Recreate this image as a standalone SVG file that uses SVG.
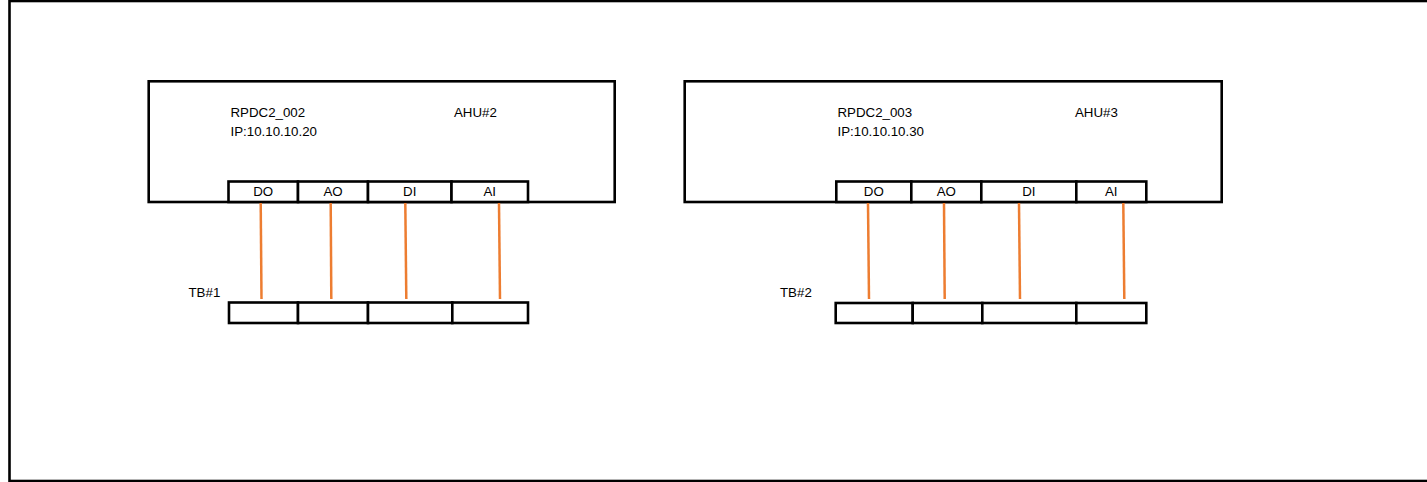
<svg xmlns="http://www.w3.org/2000/svg" width="1427" height="482" viewBox="0 0 1427 482">
<style>
.box{fill:#fff;stroke:#000;stroke-width:2.6}
.cell{fill:#fff;stroke:#000;stroke-width:2.6}
.t{font-family:"Liberation Sans",Arial,sans-serif;font-size:13.3px;fill:#000}
.c{text-anchor:middle}
.wire{stroke:#ED7D31;stroke-width:2.5;fill:none}
</style>
<rect x="9.5" y="1" width="1430" height="480" fill="#fff" stroke="#000" stroke-width="2.6"/>
<g id="rpdc2_002">
<rect class="box" x="148.7" y="81.3" width="466" height="120.7"/>
<rect class="cell" x="228.5" y="181.5" width="69.5" height="20.5"/>
<rect class="cell" x="298" y="181.5" width="70" height="20.5"/>
<rect class="cell" x="368" y="181.5" width="83.5" height="20.5"/>
<rect class="cell" x="451.5" y="181.5" width="76.5" height="20.5"/>
<text class="t" x="230.5" y="116.5">RPDC2_002</text>
<text class="t" x="230.5" y="136">IP:10.10.10.20</text>
<text class="t" x="454" y="116.5">AHU#2</text>
<text class="t c" x="263.2" y="196">DO</text>
<text class="t c" x="333" y="196">AO</text>
<text class="t c" x="409.7" y="196">DI</text>
<text class="t c" x="489.7" y="196">AI</text>
</g>
<g id="rpdc2_003">
<rect class="box" x="684.7" y="81.3" width="537" height="120.7"/>
<rect class="cell" x="836.3" y="181.5" width="75" height="20.5"/>
<rect class="cell" x="911.3" y="181.5" width="70" height="20.5"/>
<rect class="cell" x="981.3" y="181.5" width="95" height="20.5"/>
<rect class="cell" x="1076.3" y="181.5" width="70" height="20.5"/>
<text class="t" x="837.5" y="116.5">RPDC2_003</text>
<text class="t" x="837.5" y="136">IP:10.10.10.30</text>
<text class="t" x="1075" y="116.5">AHU#3</text>
<text class="t c" x="873.8" y="196">DO</text>
<text class="t c" x="946.3" y="196">AO</text>
<text class="t c" x="1028.8" y="196">DI</text>
<text class="t c" x="1111.3" y="196">AI</text>
</g>
<g id="tb1">
<rect class="cell" x="229" y="302.5" width="69" height="20.5"/>
<rect class="cell" x="298" y="302.5" width="70" height="20.5"/>
<rect class="cell" x="368" y="302.5" width="84.3" height="20.5"/>
<rect class="cell" x="452.3" y="302.5" width="75.7" height="20.5"/>
<text class="t" x="188.5" y="296.5">TB#1</text>
</g>
<g id="tb2">
<rect class="cell" x="835.7" y="303" width="77" height="20"/>
<rect class="cell" x="912.7" y="303" width="69.6" height="20"/>
<rect class="cell" x="982.3" y="303" width="94" height="20"/>
<rect class="cell" x="1076.3" y="303" width="70" height="20"/>
<text class="t" x="780" y="296.5">TB#2</text>
</g>
<g id="connectors">
<line class="wire" x1="260.7" y1="203" x2="261.5" y2="299"/>
<line class="wire" x1="330.7" y1="203" x2="331.3" y2="299"/>
<line class="wire" x1="405.3" y1="203" x2="406.3" y2="299"/>
<line class="wire" x1="499" y1="203" x2="500" y2="299"/>
<line class="wire" x1="868" y1="203" x2="869" y2="299"/>
<line class="wire" x1="944" y1="203" x2="944.7" y2="299"/>
<line class="wire" x1="1019" y1="203" x2="1020" y2="299"/>
<line class="wire" x1="1123.3" y1="203" x2="1124.3" y2="299"/>
</g>
</svg>
